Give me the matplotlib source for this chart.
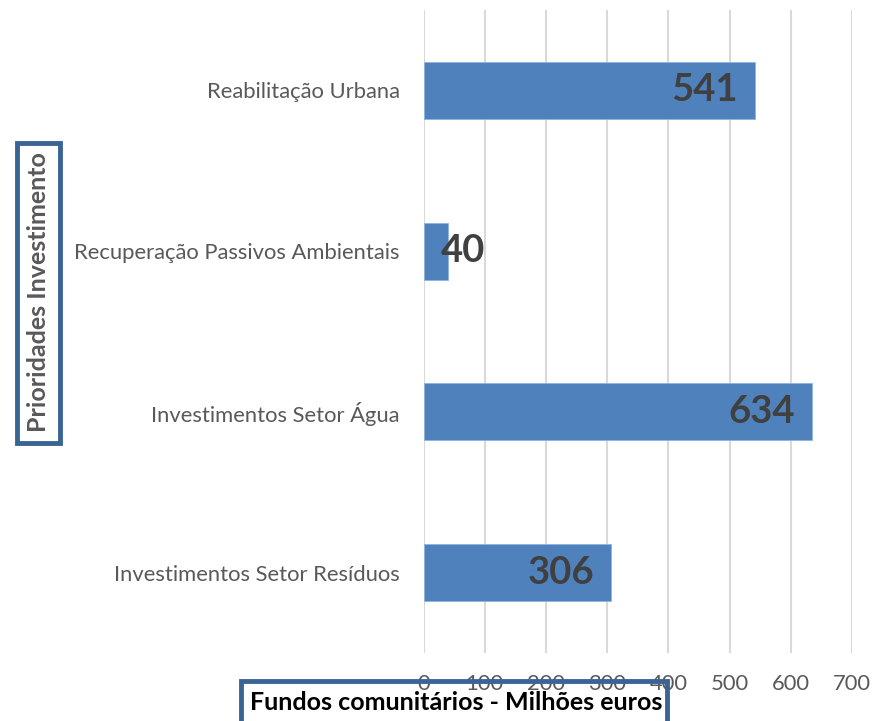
import matplotlib
matplotlib.use("Agg")
import matplotlib.pyplot as plt
from matplotlib.patches import Rectangle

# Dados do gráfico
prioridades = ["Investimentos Setor Resíduos", "Investimentos Setor Água",
               "Recuperação Passivos Ambientais", "Reabilitação Urbana"]
fundos = [306, 634, 40, 541]
ticks_x = [0, 100, 200, 300, 400, 500, 600, 700]

plt.rcParams['font.family'] = ['Lato', 'DejaVu Sans']

cor_barra = '#4F81BD'
cor_caixa = '#3A6496'
cinza = '#595959'

fig = plt.figure(figsize=(8.81, 7.21), dpi=100)
ax = fig.add_axes([423.5 / 881, 1 - 653 / 721, (852 - 423.5) / 881, (653 - 10) / 721])

ax.barh(range(len(prioridades)), fundos, height=0.355, color=cor_barra,
        edgecolor='#8EB4E3', linewidth=0.6, zorder=3)

# Rótulos dos valores
for i, v in enumerate(fundos):
    if v > 100:
        ax.annotate(str(v), (v, i), xytext=(-12, 0), textcoords='offset points',
                    ha='right', va='center', fontsize=27.5, fontweight='bold',
                    color='#404040', zorder=4)
    else:
        ax.annotate(str(v), (v, i), xytext=(-5, 0), textcoords='offset points',
                    ha='left', va='center', fontsize=27.5, fontweight='bold',
                    color='#404040', zorder=4)

ax.set_xlim(0, 700)
ax.set_ylim(-0.5, len(prioridades) - 0.5)
ax.set_xticks(ticks_x)
ax.set_yticks(range(len(prioridades)))
ax.set_yticklabels(prioridades)
ax.tick_params(axis='both', length=0, labelsize=15.8, labelcolor=cinza)
ax.tick_params(axis='x', pad=15)
ax.tick_params(axis='y', pad=17)
ax.grid(axis='x', color='#D9D9D9', linewidth=1.5, zorder=0)
for s in ax.spines.values():
    s.set_visible(False)

# Caixa do eixo Y
fig.patches.append(Rectangle((17 / 881, 1 - 443 / 721), 43 / 881, 300 / 721,
                             transform=fig.transFigure, fill=False,
                             edgecolor=cor_caixa, linewidth=3.5, zorder=5))
fig.text(38.5 / 881, 1 - 292 / 721, "Prioridades Investimento", rotation=90,
         ha='center', va='center', fontsize=18, fontweight='bold', color=cinza)

# Caixa do eixo X
fig.patches.append(Rectangle((241 / 881, -0.02), 426 / 881, 0.02 + 40 / 721,
                             transform=fig.transFigure, fill=False,
                             edgecolor=cor_caixa, linewidth=3.5, zorder=5))
fig.text(456 / 881, 1 - 703 / 721, "Fundos comunitários - Milhões euros",
         ha='center', va='center', fontsize=18, fontweight='bold', color='black')

fig.savefig("out.png", dpi=100)
